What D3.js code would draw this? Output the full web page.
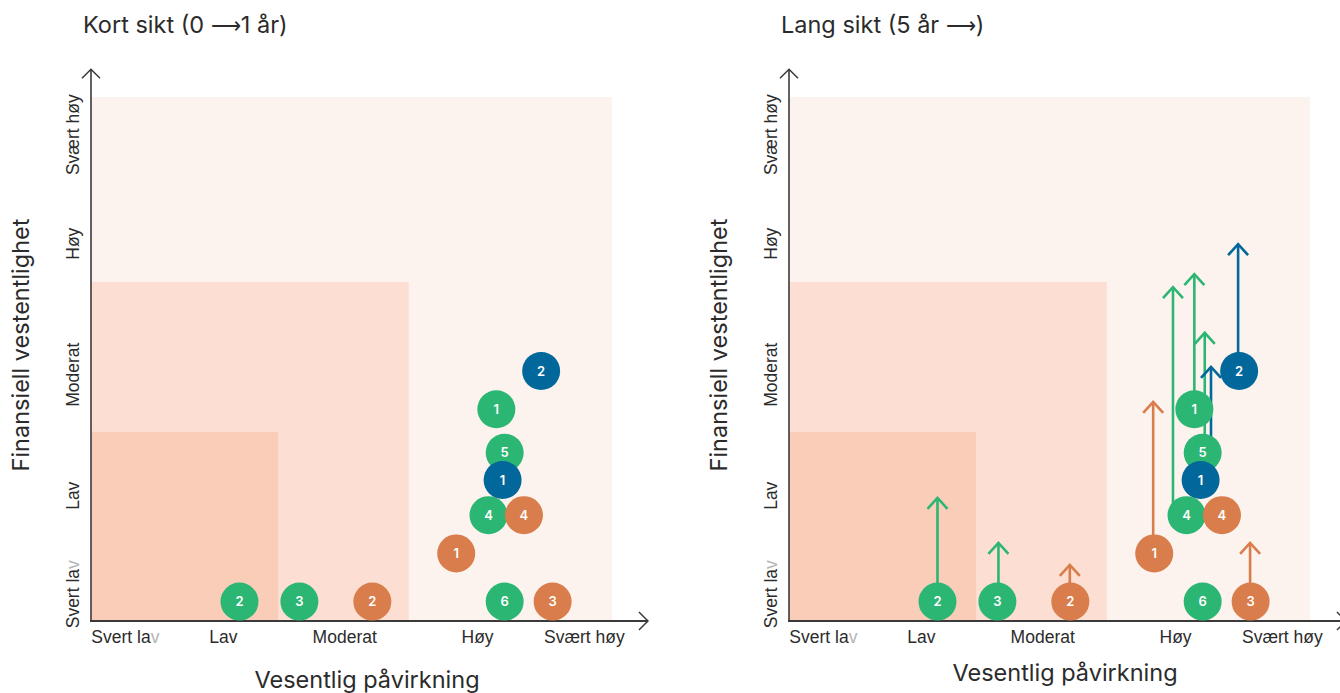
<!DOCTYPE html>
<html><head><meta charset="utf-8">
<script src="https://cdn.jsdelivr.net/npm/d3@7"></script>
<style>
body{margin:0;background:#fff;}
svg{display:block;font-family:Inter,"Noto Sans",sans-serif;}
</style>
</head><body>
<svg id="chart" width="1340" height="693"></svg>
<script>
// ---- data ----
const panelTitles = [["Kort sikt (0 ", "\u27F6", "1 år)"], ["Lang sikt (5 år ", "\u27F6", ")"]];
const xAxisTitle = "Vesentlig påvirkning";
const yAxisTitle = "Finansiell vestentlighet";
const categories = ["Svert lav", "Lav", "Moderat", "Høy", "Svært høy"];
const xTickValues = [0.65, 2.53, 4.86, 7.41, 9.46];
const yTickValues = [0.52, 2.40, 4.71, 7.21, 9.29];
// background zones (upper extent in axis units)
const zoneX = [10, 6.1, 3.59];
const zoneY = [10, 6.47, 3.61];
// points
const pointGroup = ["green","green","orange","green","orange","orange","green","orange","green","blue","green","blue"];
const pointLabel = ["2","3","2","6","3","1","4","4","5","1","1","2"];
const pointX     = [2.85, 4.00, 5.40, 7.94, 8.86, 7.01, 7.63, 8.31, 7.94, 7.90, 7.78, 8.64];
const pointY     = [0.37, 0.37, 0.37, 0.37, 0.37, 1.29, 2.02, 2.02, 3.21, 2.69, 4.04, 4.77];
// long-term movement (5 years)
const arrowX     = [2.85, 4.02, 5.39, null, 8.85, 6.99, 7.37, null, 7.98, 8.10, 7.78, 8.62];
const longTermY  = [2.35, 1.49, 1.07, null, 1.49, 4.18, 6.37, null, 5.50, 4.85, 6.62, 7.19];

const groupColor = {green:"#2cb673", orange:"#d87d4b", blue:"#02679a"};
const zoneColor = ["#fdf3ee", "#fcdfd2", "#facdb9"];

const points = pointLabel.map((l,i)=>({label:l, group:pointGroup[i], x:pointX[i], y:pointY[i], ax:arrowX[i], ly:longTermY[i]}));

const svg = d3.select("#chart");
const panelOffsets = [0, 698];
const textCol = "#2b2b2b";

panelOffsets.forEach((off, pi) => {
  const g = svg.append("g").attr("transform", `translate(${91+off},0)`);
  const x = d3.scaleLinear().domain([0,10]).range([0,521]);
  const y = d3.scaleLinear().domain([0,10]).range([621,97]);

  // title
  const tt = svg.append("text").attr("x", 83+off).attr("y", 33)
    .attr("font-size", 23.5).attr("fill", textCol);
  tt.append("tspan").text(panelTitles[pi][0]);
  tt.append("tspan").attr("font-family", "DejaVu Sans").attr("font-weight", 300).attr("font-size", 21).text(panelTitles[pi][1]);
  tt.append("tspan").text(panelTitles[pi][2]);

  // zones
  zoneX.forEach((zx, i) => {
    g.append("rect").attr("x", x(0)).attr("y", y(zoneY[i]))
      .attr("width", x(zx)-x(0)).attr("height", y(0)-y(zoneY[i]))
      .attr("fill", zoneColor[i]);
  });

  // x axis tick labels
  const xa = g.append("g").attr("transform", `translate(0,${y(0)})`)
    .call(d3.axisBottom(x).tickValues(xTickValues).tickFormat((d,i)=>categories[i]).tickSize(0).tickPadding(10));
  xa.select(".domain").remove();
  xa.selectAll("text").attr("font-size", 17.5).attr("font-family", null).attr("fill", textCol);

  // y axis tick labels
  const ya = g.append("g")
    .call(d3.axisLeft(y).tickValues(yTickValues).tickFormat((d,i)=>categories[i]).tickSize(0));
  ya.select(".domain").remove();
  ya.selectAll("text").attr("font-size", 17.5).attr("font-family", null).attr("fill", textCol)
    .attr("x", null).attr("dy", null).attr("text-anchor", "middle")
    .attr("dominant-baseline", "central")
    .attr("transform", "translate(-18,0) rotate(-90)");

  // light "v" in "Svert lav"
  [xa, ya].forEach(a => a.selectAll("text").filter(function(){return d3.select(this).text()==="Svert lav";})
    .each(function(){
      const t = d3.select(this); t.text("");
      t.append("tspan").text("Svert la");
      t.append("tspan").attr("fill", "#b5b5b5").text("v");
    }));

  // axis lines with arrow heads
  const axisCol = "#3a3a3a";
  g.append("line").attr("x1", x(0)).attr("x2", x(0)).attr("y1", y(0)+1).attr("y2", y(10.53))
    .attr("stroke", axisCol).attr("stroke-width", 1.6);
  g.append("path").attr("d", `M${x(0)-9},${y(10.53)+9} L${x(0)},${y(10.53)} L${x(0)+9},${y(10.53)+9}`)
    .attr("fill", "none").attr("stroke", axisCol).attr("stroke-width", 1.5);
  g.append("line").attr("x1", x(0)-1).attr("x2", x(10.69)).attr("y1", y(0)).attr("y2", y(0))
    .attr("stroke", axisCol).attr("stroke-width", 2);
  g.append("path").attr("d", `M${x(10.69)-9},${y(0)-9} L${x(10.69)},${y(0)} L${x(10.69)-9},${y(0)+9}`)
    .attr("fill", "none").attr("stroke", axisCol).attr("stroke-width", 1.5);

  // axis titles
  svg.append("text").attr("x", 367+off).attr("y", pi===0 ? 688 : 681).attr("text-anchor", "middle")
    .attr("font-size", 23.5).attr("fill", textCol).text(xAxisTitle);
  svg.append("text").attr("transform", `translate(${29+off},345) rotate(-90)`).attr("text-anchor", "middle")
    .attr("font-size", 23.5).attr("fill", textCol).text(yAxisTitle);

  // arrows (long term)
  if (pi === 1) {
    const ag = g.append("g");
    points.filter(p => p.ly !== null).forEach(p => {
      const c = groupColor[p.group];
      ag.append("line").attr("x1", x(p.ax)).attr("x2", x(p.ax)).attr("y1", y(p.y)).attr("y2", y(p.ly)+1)
        .attr("stroke", c).attr("stroke-width", 2.6);
      ag.append("path").attr("d", `M${x(p.ax)-10},${y(p.ly)+11} L${x(p.ax)},${y(p.ly)} L${x(p.ax)+10},${y(p.ly)+11}`)
        .attr("fill", "none").attr("stroke", c).attr("stroke-width", 2.6);
    });
  }

  // circles
  const pg = g.append("g").selectAll("g").data(points).join("g")
    .attr("transform", d => `translate(${x(d.x)},${y(d.y)})`);
  pg.append("circle").attr("r", 19).attr("fill", d => groupColor[d.group]);
  pg.append("text").attr("text-anchor", "middle").attr("dy", "0.36em")
    .attr("font-size", 13).attr("font-weight", 600).attr("fill", "#fff").text(d => d.label);
});
</script>
</body></html>
